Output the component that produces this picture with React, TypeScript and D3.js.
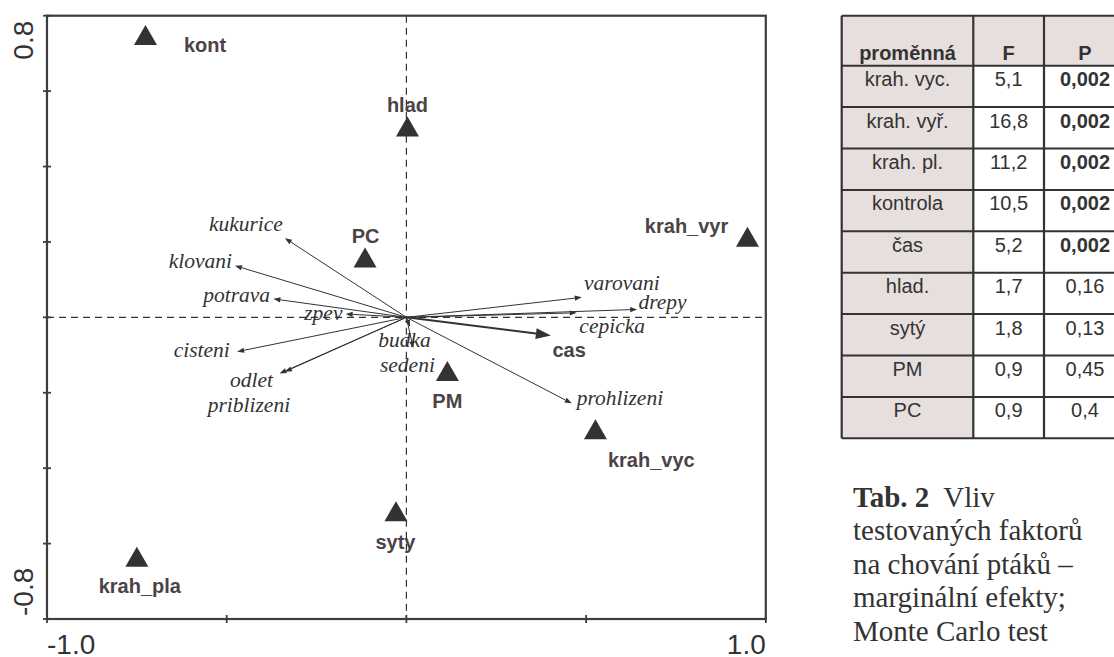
import React from "react";
import * as d3 from "d3";

// Ordination biplot: species arrows, environmental centroids, and the
// "cas" (time) vector, plus the table of marginal effects.

const speciesNames = [
  "kukurice", "klovani", "potrava", "zpev", "cisteni", "odlet", "priblizeni",
  "budka", "sedeni", "varovani", "drepy", "cepicka", "prohlizeni",
];
const speciesAxis1 = [
  -0.338, -0.477, -0.37, -0.169, -0.471, -0.353, -0.338,
  0.01, 0.019, 0.488, 0.642, 0.474, 0.46,
];
const speciesAxis2 = [
  0.21, 0.137, 0.049, 0.009, -0.091, -0.149, -0.144,
  -0.025, -0.082, 0.053, 0.021, 0.012, -0.228,
];

const centroidNames = ["kont", "hlad", "PC", "krah_vyr", "PM", "krah_vyc", "syty", "krah_pla"];
const centroidAxis1 = [-0.726, 0.003, -0.115, 0.949, 0.114, 0.526, -0.029, -0.75];
const centroidAxis2 = [0.749, 0.506, 0.159, 0.214, -0.142, -0.297, -0.514, -0.635];

const vectorName = "cas";
const vectorAxis1 = 0.402;
const vectorAxis2 = -0.048;

const xTicks = [-1, -0.5, 0, 0.5, 1];
const yTicks = [-0.8, -0.6, -0.4, -0.2, 0, 0.2, 0.4, 0.6, 0.8];
const xTickLabels = ["-1.0", "1.0"];
const yTickLabels = ["-0.8", "0.8"];

const tableHeader = ["proměnná", "F", "P"];
const tableVariables = ["krah. vyc.", "krah. vyř.", "krah. pl.", "kontrola", "čas", "hlad.", "sytý", "PM", "PC"];
const tableF = [5.1, 16.8, 11.2, 10.5, 5.2, 1.7, 1.8, 0.9, 0.9];
const tableP = [0.002, 0.002, 0.002, 0.002, 0.002, 0.16, 0.13, 0.45, 0.4];

const captionTitle = "Tab. 2";
const captionLines = [
  "Vliv",
  "testovaných faktorů",
  "na chování ptáků –",
  "marginální efekty;",
  "Monte Carlo test",
];

// label placement relative to the arrow tip / symbol (pixels)
const speciesLabelPlacement: Record<string, [string, number, number]> = {
  kukurice: ["end", -2, -7.3],
  klovani: ["end", -3, 2.5],
  potrava: ["end", -3.3, 3.5],
  zpev: ["end", -3.2, 6.5],
  cisteni: ["end", -7.3, 5.6],
  odlet: ["end", -6.5, 13.2],
  priblizeni: ["middle", -36, 40.2],
  budka: ["middle", -5.5, 20],
  sedeni: ["middle", -5.8, 23.4],
  varovani: ["start", 2.3, -7.5],
  drepy: ["start", 1.3, -0.8],
  cepicka: ["start", 2.6, 20.3],
  prohlizeni: ["start", 5, 1.7],
};
const centroidLabelPlacement: Record<string, [string, number, number]> = {
  kont: ["start", 38.5, 17],
  hlad: ["middle", 0, -14.5],
  PC: ["middle", 0.5, -14.8],
  krah_vyr: ["end", -19.2, -3.2],
  PM: ["middle", 0, 37.3],
  krah_vyc: ["start", 12.5, 37.2],
  syty: ["middle", -0.5, 38],
  krah_pla: ["middle", 3, 36],
};

const SANS = "'Liberation Sans', Arial, Helvetica, sans-serif";
const SERIF = "'Liberation Serif', 'Times New Roman', serif";
const INK = "#333333";
const LABEL_INK = "#4b4345";

const plot = { left: 47, right: 765.8, top: 15.7, bottom: 619 };

const x = d3.scaleLinear().domain([-1, 1]).range([plot.left, plot.right]);
const y = d3.scaleLinear().domain([-0.8, 0.8]).range([plot.bottom, plot.top]);

function arrowHead(x0: number, y0: number, x1: number, y1: number, len: number, hw: number) {
  const a = Math.atan2(y1 - y0, x1 - x0);
  const bx = x1 - len * Math.cos(a);
  const by = y1 - len * Math.sin(a);
  const px = -Math.sin(a) * hw;
  const py = Math.cos(a) * hw;
  return {
    base: [bx, by],
    points: `${x1},${y1} ${bx + px},${by + py} ${bx - px},${by - py}`,
  };
}

function fmt(v: number) {
  return String(v).replace(".", ",");
}

export default function App() {
  const ox = x(0);
  const oy = y(0);

  const triangle = (cx: number, cy: number) => {
    const w = 23, h = 20;
    return `${cx},${cy - h / 2} ${cx + w / 2},${cy + h / 2} ${cx - w / 2},${cy + h / 2}`;
  };

  // table geometry
  const colX = [841.7, 973.3, 1044, 1126];
  const headerTop = 15.7;
  const headerBottom = 65.7;
  const rowH = (438.3 - headerBottom) / tableVariables.length;
  const tableBottom = headerBottom + rowH * tableVariables.length;
  const cellFill = "#e6dfdd";

  const cvx = x(vectorAxis1);
  const cvy = y(vectorAxis2);
  const casHead = arrowHead(ox, oy, cvx, cvy, 15, 5.5);

  return (
    <svg
      width={1114}
      height={657}
      style={{ position: "absolute", left: 0, top: 0, background: "#fff" }}
    >
      {/* zero lines */}
      <line x1={plot.left} x2={plot.right} y1={oy} y2={oy} stroke={INK} strokeWidth={1.2} strokeDasharray="7,5" />
      <line x1={ox} x2={ox} y1={plot.top} y2={plot.bottom} stroke={INK} strokeWidth={1.2} strokeDasharray="7,5" />

      {/* frame */}
      <rect
        x={plot.left}
        y={plot.top}
        width={plot.right - plot.left}
        height={plot.bottom - plot.top}
        fill="none"
        stroke="#3d3d3d"
        strokeWidth={2.2}
      />

      {/* ticks */}
      {yTicks.map((t, i) => (
        <line key={"yt" + i} x1={plot.left - 4} x2={plot.left + 4} y1={y(t)} y2={y(t)} stroke="#3d3d3d" strokeWidth={1.8} />
      ))}
      {xTicks.map((t, i) => (
        <line key={"xt" + i} x1={x(t)} x2={x(t)} y1={plot.bottom - 4} y2={plot.bottom + 4} stroke="#3d3d3d" strokeWidth={1.8} />
      ))}

      {/* end tick labels */}
      <text x={x(-1)} y={654} fontFamily={SANS} fontSize={28} fill={INK} textAnchor="start">
        {xTickLabels[0]}
      </text>
      <text x={x(1)} y={654} fontFamily={SANS} fontSize={28} fill={INK} textAnchor="end">
        {xTickLabels[1]}
      </text>
      <text transform={`translate(33,${y(-0.8) - 3}) rotate(-90)`} fontFamily={SANS} fontSize={28} fill={INK} textAnchor="start">
        {yTickLabels[0]}
      </text>
      <text transform={`translate(33,${y(0.8) + 5}) rotate(-90)`} fontFamily={SANS} fontSize={28} fill={INK} textAnchor="end">
        {yTickLabels[1]}
      </text>

      {/* species arrows */}
      {speciesNames.map((name, i) => {
        const tx = x(speciesAxis1[i]);
        const ty = y(speciesAxis2[i]);
        const h = arrowHead(ox, oy, tx, ty, 7, 2.6);
        const [anchor, dx, dy] = speciesLabelPlacement[name];
        return (
          <g key={name}>
            <line x1={ox} y1={oy} x2={h.base[0]} y2={h.base[1]} stroke={INK} strokeWidth={1} />
            <polygon points={h.points} fill={INK} />
            <text
              x={tx + dx}
              y={ty + dy}
              textAnchor={anchor as any}
              fontFamily={SERIF}
              fontStyle="italic"
              fontSize={21.5}
              fill={INK}
            >
              {name}
            </text>
          </g>
        );
      })}

      {/* time vector */}
      <line x1={ox} y1={oy} x2={casHead.base[0]} y2={casHead.base[1]} stroke={INK} strokeWidth={2} />
      <polygon points={casHead.points} fill={INK} />
      <text x={cvx + 18.3} y={cvy + 22} textAnchor="middle" fontFamily={SANS} fontWeight="bold" fontSize={20} fill={LABEL_INK}>
        {vectorName}
      </text>

      {/* centroids */}
      {centroidNames.map((name, i) => {
        const cx = x(centroidAxis1[i]);
        const cy = y(centroidAxis2[i]);
        const [anchor, dx, dy] = centroidLabelPlacement[name];
        return (
          <g key={name}>
            <polygon points={triangle(cx, cy)} fill="#333333" />
            <text
              x={cx + dx}
              y={cy + dy}
              textAnchor={anchor as any}
              fontFamily={SANS}
              fontWeight="bold"
              fontSize={20}
              fill={LABEL_INK}
            >
              {name}
            </text>
          </g>
        );
      })}

      {/* table */}
      <g>
        <rect x={colX[0]} y={headerTop} width={colX[3] - colX[0]} height={headerBottom - headerTop} fill={cellFill} />
        <rect x={colX[0]} y={headerBottom} width={colX[1] - colX[0]} height={tableBottom - headerBottom} fill={cellFill} />
        {tableHeader.map((h, j) => (
          <text
            key={"h" + j}
            x={(colX[j] + colX[j + 1]) / 2}
            y={headerBottom - 6}
            textAnchor="middle"
            fontFamily={SANS}
            fontWeight="bold"
            fontSize={20}
            fill={INK}
          >
            {h}
          </text>
        ))}
        {tableVariables.map((v, i) => {
          const top = headerBottom + i * rowH;
          const base = top + 20.5;
          return (
            <g key={"r" + i}>
              <text x={(colX[0] + colX[1]) / 2} y={base} textAnchor="middle" fontFamily={SANS} fontSize={20} fill={INK}>
                {v}
              </text>
              <text x={(colX[1] + colX[2]) / 2} y={base} textAnchor="middle" fontFamily={SANS} fontSize={20} fill={INK}>
                {fmt(tableF[i])}
              </text>
              <text
                x={(colX[2] + colX[3]) / 2}
                y={base}
                textAnchor="middle"
                fontFamily={SANS}
                fontSize={20}
                fontWeight={tableP[i] < 0.05 ? "bold" : "normal"}
                fill={INK}
              >
                {fmt(tableP[i])}
              </text>
            </g>
          );
        })}
        {/* horizontal rules */}
        {[headerTop, headerBottom, ...tableVariables.map((_, i) => headerBottom + (i + 1) * rowH)].map((yy, i) => (
          <line key={"hl" + i} x1={colX[0]} x2={colX[3]} y1={yy} y2={yy} stroke={INK} strokeWidth={2} />
        ))}
        {colX.map((xx, i) => (
          <line key={"vl" + i} x1={xx} x2={xx} y1={headerTop} y2={tableBottom} stroke={INK} strokeWidth={2.2} />
        ))}
      </g>

      {/* caption */}
      <g fontFamily={SERIF} fontSize={29} fill={INK}>
        {captionLines.map((line, i) => (
          <text key={"c" + i} x={853} y={506.7 + i * 33.5}>
            {i === 0 ? (
              <>
                <tspan fontWeight="bold">{captionTitle}</tspan>
                <tspan>{"\u00a0 " + line}</tspan>
              </>
            ) : (
              line
            )}
          </text>
        ))}
      </g>
    </svg>
  );
}
